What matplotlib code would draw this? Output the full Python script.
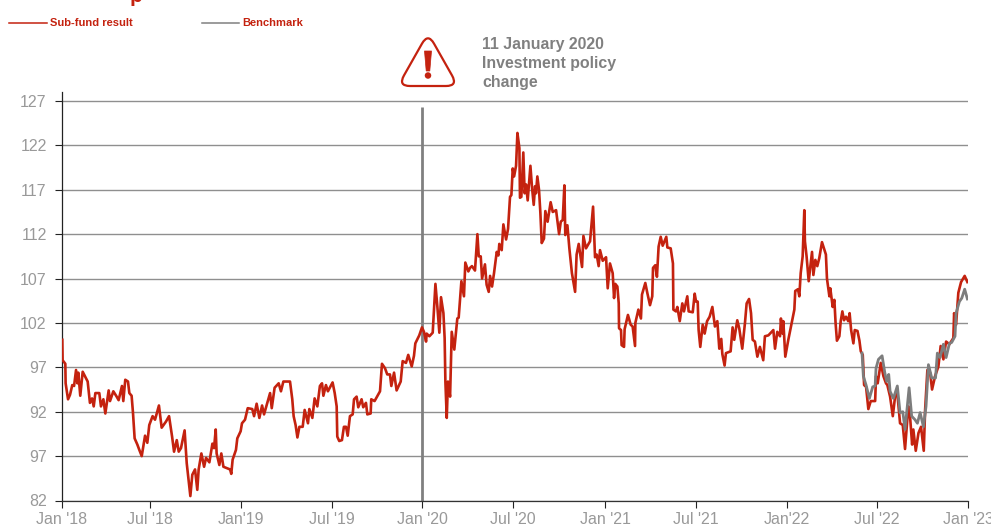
import matplotlib
matplotlib.use('Agg')
import matplotlib.pyplot as plt
from matplotlib.patches import PathPatch, Ellipse, Polygon
from matplotlib.path import Path

RED = '#c4220f'
GREY = '#7d7d7d'
plt.rcParams['font.family'] = ['Liberation Sans', 'DejaVu Sans']

# months since Jan 2018
fund_months = [
    0.02, 0.04, 0.22, 0.24, 0.40, 0.53, 0.68, 0.80, 0.93, 1.02, 1.08, 1.21, 1.37, 1.52, 1.70, 1.85, 1.99, 2.10, 2.21, 2.47,
    2.58, 2.74, 2.87, 3.09, 3.18, 3.40, 3.62, 3.75, 3.97, 4.06, 4.19, 4.37, 4.46, 4.61, 4.70, 4.81, 4.99, 5.12, 5.28, 5.50,
    5.65, 5.78, 6.00, 6.16, 6.42, 6.60, 6.89, 7.09, 7.29, 7.42, 7.60, 7.73,
    7.88, 8.12, 8.26, 8.50, 8.63, 8.81, 8.96, 9.05, 9.23, 9.41, 9.54, 9.76, 9.96, 10.07, 10.18, 10.24, 10.42, 10.55, 10.69,
    11.13, 11.21, 11.30, 11.52, 11.61, 11.83, 11.92, 12.12, 12.30, 12.60, 12.72, 12.89, 13.07, 13.25, 13.38, 13.60, 13.78,
    13.89, 14.08, 14.35, 14.50, 14.66, 15.10, 15.25, 15.34, 15.47, 15.59, 15.72,
    15.94, 16.07, 16.29, 16.38, 16.58, 16.73, 16.91, 17.08, 17.22, 17.31, 17.48, 17.61, 17.92, 18.06, 18.19, 18.23, 18.36,
    18.54, 18.67, 18.81, 18.92, 19.07, 19.25, 19.34, 19.51, 19.62, 19.84, 19.95, 20.13, 20.22, 20.44, 20.48, 20.70, 21.06,
    21.19, 21.39, 21.54, 21.72, 21.81, 21.99, 22.16, 22.43, 22.56, 22.78, 22.93, 23.16, 23.31, 23.40, 23.66,
    23.84, 23.97, 24.11, 24.15, 24.33, 24.55, 24.73, 24.86, 24.99, 25.10, 25.26, 25.34, 25.39, 25.48, 25.56, 25.70, 25.81,
    25.98, 26.18, 26.27, 26.45, 26.62, 26.71, 26.91, 27.02, 27.15, 27.35, 27.51, 27.60, 27.73, 27.82, 28.01, 28.12, 28.26,
    28.35, 28.48, 28.61, 28.79, 28.90, 28.96, 29.12, 29.23, 29.41, 29.54, 29.67, 29.76, 29.85, 29.94, 30.07, 30.16, 30.29,
    30.33, 30.42, 30.55, 30.64, 30.73, 30.84, 31.02, 31.13, 31.24, 31.33, 31.39, 31.48, 31.59, 31.68, 31.77, 31.92, 32.01,
    32.16, 32.36, 32.50, 32.72, 32.92, 33.03, 33.16, 33.27,
    33.33, 33.47, 33.60, 33.77, 33.98, 34.08, 34.22, 34.44, 34.53, 34.70, 34.97, 35.17, 35.30, 35.41, 35.54, 35.63, 35.81,
    36.03, 36.14, 36.29, 36.47, 36.56, 36.64, 36.78, 36.87, 36.89, 37.02, 37.06, 37.22, 37.26, 37.48, 37.66, 37.79, 37.95,
    37.97, 38.17, 38.34, 38.41, 38.63, 38.76, 38.94, 39.09, 39.14, 39.29, 39.40, 39.51, 39.65, 39.78, 40.02, 40.09, 40.31,
    40.46, 40.49, 40.66, 40.75, 40.91, 41.08, 41.19, 41.41, 41.50, 41.77, 41.90, 41.99, 42.10, 42.16, 42.27, 42.43, 42.56,
    42.72, 42.89,
    43.07, 43.24, 43.40, 43.53, 43.66, 43.73, 43.88, 43.97, 44.28, 44.41, 44.52, 44.72, 44.85, 45.05, 45.23, 45.34, 45.50,
    45.63, 45.74, 45.89, 46.05, 46.22, 46.44, 46.55, 46.78, 47.11, 47.22, 47.37, 47.55, 47.61, 47.72, 47.77, 47.90, 48.10,
    48.32, 48.50, 48.56, 48.74, 48.83, 48.92, 49.05, 49.16, 49.20, 49.31, 49.45, 49.58, 49.67, 49.76, 49.89, 50.02, 50.15,
    50.33, 50.59, 50.66, 50.82, 50.88, 51.04, 51.15, 51.23, 51.32, 51.48, 51.57, 51.68, 51.79, 51.92, 52.07, 52.16,
    52.26, 52.41, 52.50, 52.68, 52.81, 52.90, 53.03, 53.12, 53.25, 53.40, 53.56, 53.85, 53.91, 54.02, 54.22, 54.40, 54.57,
    54.66, 54.84, 55.02, 55.17, 55.32, 55.50, 55.68, 55.83, 56.05, 56.16, 56.30, 56.38, 56.54, 56.72, 56.89, 57.07, 57.16,
    57.31, 57.49, 57.62, 57.82, 58.04, 58.19, 58.37, 58.55, 58.77, 59.03, 59.08, 59.21, 59.36, 59.54, 59.78, 59.96,
]
fund_values = [
    100.1, 97.8, 97.4, 95.2, 93.4, 93.9, 95.0, 94.9, 96.7, 95.2, 96.4, 93.8, 96.5, 96.0, 95.4, 93.0, 93.5, 92.6, 94.1, 94.1,
    92.6, 93.4, 91.8, 94.4, 93.2, 94.3, 93.7, 93.3, 94.9, 93.2, 95.6, 95.4, 94.1, 93.8, 91.9, 89.0, 88.3, 87.7, 87.0, 89.3,
    88.5, 90.5, 91.5, 91.1, 92.7, 90.2, 90.9, 91.5, 89.2, 87.5, 88.8, 87.5,
    87.9, 89.9, 86.2, 82.5, 84.9, 85.5, 83.2, 85.5, 87.3, 85.8, 86.8, 86.3, 88.4, 87.9, 90.0, 87.3, 86.0, 87.3, 85.8,
    85.5, 85.0, 86.6, 87.7, 89.0, 89.8, 90.7, 91.1, 92.4, 92.3, 91.5, 92.9, 91.3, 92.7, 91.7, 93.0, 94.1,
    92.4, 94.7, 95.2, 94.3, 95.4, 95.4, 93.4, 91.5, 90.5, 89.1, 90.3,
    90.3, 92.2, 90.7, 92.3, 91.3, 93.5, 92.6, 94.9, 95.2, 93.8, 95.0, 94.3, 95.3, 94.1, 92.6, 89.2, 88.7,
    88.8, 90.3, 90.3, 89.3, 91.5, 91.7, 93.4, 93.7, 92.5, 93.4, 92.5, 93.0, 91.7, 91.8, 93.4, 93.2, 94.3,
    97.4, 96.9, 96.2, 96.2, 94.9, 96.4, 94.4, 95.4, 97.7, 97.5, 98.4, 97.1, 98.3, 99.7, 100.6,
    101.5, 101.0, 99.9, 100.8, 100.5, 100.9, 106.4, 103.8, 100.9, 104.9, 103.1, 100.3, 95.4, 91.3, 95.4, 93.7, 101.0,
    99.0, 102.5, 102.6, 106.7, 105.0, 108.8, 107.8, 108.2, 108.4, 107.9, 112.0, 109.5, 109.5, 107.0, 108.6, 106.3, 105.5,
    107.3, 106.1, 107.6, 110.0, 109.6, 110.9, 110.2, 113.1, 111.4, 112.6, 116.2, 116.4, 119.4, 118.5, 119.7, 123.4, 121.7,
    116.1, 116.2, 121.2, 116.6, 117.6, 115.8, 119.7, 117.2, 115.3, 117.4, 116.6, 118.5, 117.0, 114.4, 111.0, 111.5, 114.6,
    113.4, 115.6, 114.5, 114.7, 112.0, 113.4, 113.6, 117.5,
    111.9, 113.0, 110.4, 107.6, 105.5, 109.7, 110.9, 108.3, 111.8, 110.4, 111.2, 115.1, 109.4, 109.7, 108.4, 110.2, 109.0,
    109.4, 105.9, 108.7, 107.6, 104.8, 106.4, 106.1, 104.2, 101.4, 101.2, 99.5, 99.3, 101.3, 102.9, 101.8, 101.6, 99.4,
    102.0, 103.5, 102.5, 105.2, 106.5, 105.4, 104.0, 105.0, 108.2, 108.5, 107.2, 110.6, 111.7, 110.7, 111.7, 110.5, 110.4,
    108.7, 103.5, 103.3, 103.8, 102.2, 104.2, 103.3, 105.0, 103.3, 103.2, 105.3, 104.4, 104.4, 101.2, 99.3, 101.8, 100.8,
    102.2, 102.7,
    103.8, 101.6, 102.2, 99.1, 100.2, 98.5, 97.2, 98.6, 98.8, 101.5, 100.1, 102.3, 101.4, 99.1, 102.0, 104.2, 104.7,
    103.1, 100.1, 99.9, 98.2, 99.3, 97.8, 100.5, 100.6, 101.2, 99.1, 101.0, 100.5, 102.5, 100.8, 102.2, 98.2, 100.1,
    102.0, 103.5, 105.6, 105.8, 105.0, 107.6, 109.5, 114.7, 111.2, 109.5, 106.7, 108.7, 110.0, 107.4, 109.1, 108.4, 109.3,
    111.1, 109.7, 107.0, 105.0, 105.9, 103.8, 104.6, 102.0, 100.0, 100.5, 102.2, 103.3, 102.3, 102.7, 102.2, 103.1,
    101.2, 99.7, 101.2, 101.1, 100.0, 98.8, 98.4, 95.0, 94.8, 92.3, 93.2, 93.2, 96.0, 95.2, 97.5, 96.0, 95.2,
    95.0, 93.7, 91.5, 93.7, 94.1, 90.7, 90.5, 87.8, 92.6, 91.5, 88.3, 90.0, 87.6, 89.6, 90.3, 87.6, 92.2,
    96.7, 96.4, 94.5, 96.0, 97.1, 99.4, 97.9, 99.9, 99.6, 100.3, 103.1, 101.8, 105.4, 106.6, 107.3, 106.6,
]
bench_months = [
    52.98, 53.07, 53.25, 53.47, 53.69, 53.85, 53.91, 54.07, 54.31, 54.49, 54.62, 54.75, 54.84, 55.06, 55.32, 55.50, 55.68,
    55.83, 56.10, 56.27, 56.49, 56.65, 56.83, 57.05, 57.22, 57.38, 57.60, 57.85, 57.97, 58.15, 58.37, 58.55, 58.77, 58.92,
    59.14, 59.21, 59.43, 59.59, 59.78, 59.96,
]
bench_values = [
    98.6, 96.0, 95.0, 93.5, 94.8, 94.9, 96.9, 97.9, 98.3, 96.4, 95.4, 96.2, 94.3, 93.5, 94.9, 91.9, 92.0,
    90.0, 94.7, 91.5, 91.1, 90.7, 91.9, 90.3, 92.6, 97.3, 95.8, 95.8, 98.6, 98.1, 99.6, 98.1, 99.7, 99.8,
    100.5, 103.1, 104.4, 104.8, 105.8, 104.7,
]

y_ticks = [127, 122, 117, 112, 107, 102, 97, 92, 87, 82]
y_labels = ['127', '122', '117', '112', '107', '102', '97', '92', '97', '82']  # the 97 is printed twice in the original
# ticks in the original are not quite evenly spaced
x_ticks = [0, 5.85, 11.87, 17.9, 23.87, 29.87, 35.96, 41.99, 48.0, 53.97, 60]
x_labels = ["Jan '18", "Jul '18", "Jan'19", "Jul '19", "Jan '20", "Jul '20", "Jan '21", "Jul '21", "Jan'22", "Jul '22", "Jan '23"]
policy_month = 23.85

W, H = 991, 526
fig = plt.figure(figsize=(W / 100, H / 100), dpi=100)
ax = fig.add_axes([62 / W, (H - 500.5) / H, 906 / W, 408.4 / H])
ax.set_xlim(0, 60)
ax.set_ylim(82, 128)

for s in ['top', 'right']:
    ax.spines[s].set_visible(False)
ax.spines['left'].set_color('#222222')
ax.spines['bottom'].set_color('#333333')
ax.spines['left'].set_linewidth(0.9)
ax.spines['bottom'].set_linewidth(0.9)

ax.set_yticks(y_ticks)
ax.set_yticklabels(y_labels)
ax.set_xticks(x_ticks)
ax.set_xticklabels(x_labels)
ax.tick_params(axis='y', length=5, width=0.8, color='#222222', labelcolor='#999999', labelsize=11.5, pad=6)
ax.tick_params(axis='x', length=5, width=0.8, color='#222222', labelcolor='#999999', labelsize=11.5, pad=3)
ax.yaxis.grid(True, color='#8f8f8f', lw=1.0)
ax.set_axisbelow(True)

ax.plot([policy_month, policy_month], [82, 126.3], color='#808080', lw=2.0, solid_capstyle='butt', zorder=2)
ax.plot(fund_months, fund_values, color=RED, lw=1.9, solid_joinstyle='round', zorder=3)
ax.plot(bench_months, bench_values, color=GREY, lw=2.0, solid_joinstyle='round', zorder=4)

# overlay in pixels for legend and the warning sign
ov = fig.add_axes([0, 0, 1, 1])
ov.set_xlim(0, W)
ov.set_ylim(H, 0)
ov.axis('off')

ov.plot([9, 47], [22.6, 22.6], color=RED, lw=1.1)
ov.text(50, 22.8, 'Sub-fund result', color=RED, fontsize=8, fontweight='bold', va='center')
ov.plot([202, 239], [22.6, 22.6], color='#808080', lw=1.1)
ov.text(242, 22.8, 'Benchmark', color=RED, fontsize=8, fontweight='bold', va='center')
ov.text(136, -3.5, 'p', color=RED, fontsize=15, fontweight='bold', ha='center', va='center', clip_on=False)

for txt, y in [('11 January 2020', 44), ('Investment policy', 63.5), ('change', 83)]:
    ov.text(482.5, y, txt, color='#808080', fontsize=11.4, fontweight='bold', va='center')

tri = [(428, 33), (458, 86), (398, 86)]
r = 0.2
verts, codes = [], []
for i in range(3):
    p0, p1, p2 = tri[i - 1], tri[i], tri[(i + 1) % 3]
    a = (p1[0] + (p0[0] - p1[0]) * r, p1[1] + (p0[1] - p1[1]) * r)
    b = (p1[0] + (p2[0] - p1[0]) * r, p1[1] + (p2[1] - p1[1]) * r)
    verts += [a, p1, b]
    codes += [Path.LINETO if i else Path.MOVETO, Path.CURVE3, Path.CURVE3]
verts.append(verts[0])
codes.append(Path.CLOSEPOLY)
ov.add_patch(PathPatch(Path(verts, codes), fc='white', ec=RED, lw=1.6))
ov.add_patch(Polygon([(424.5, 51), (431.5, 51), (429.8, 71), (426.2, 71)], fc=RED, ec=RED, lw=0.5, joinstyle='round'))
ov.add_patch(Ellipse((428, 75.5), 6.5, 6.5, fc=RED, ec='none'))

fig.savefig('out.png', dpi=100)
